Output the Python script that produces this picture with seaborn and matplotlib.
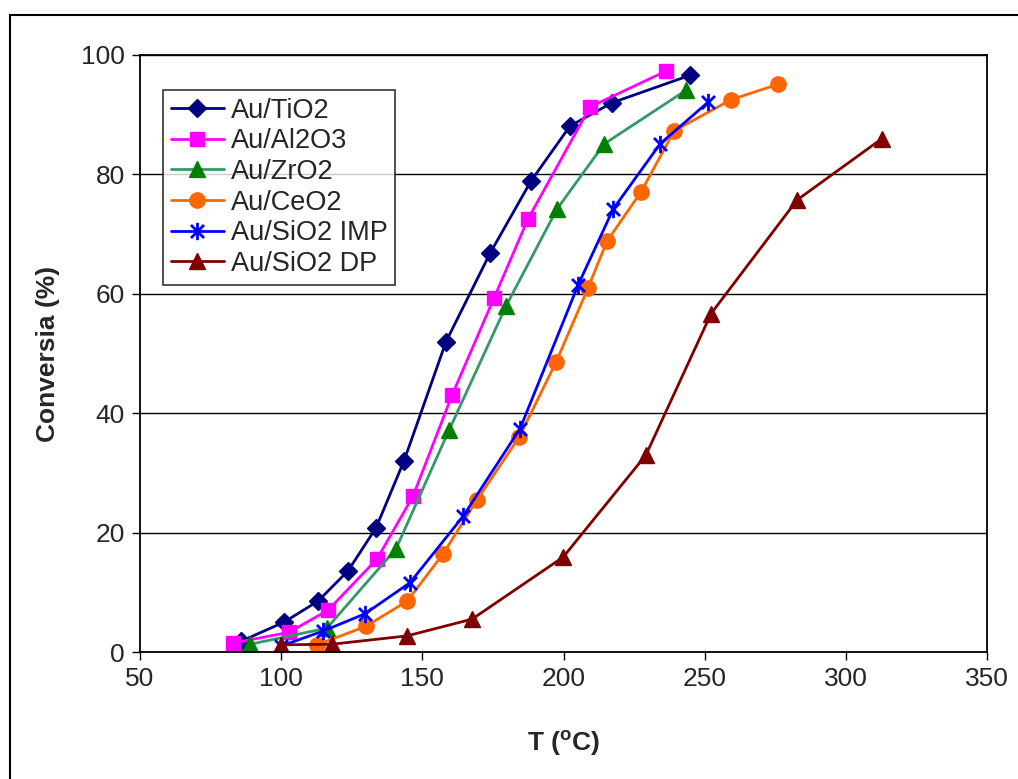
import matplotlib
matplotlib.use("Agg")
import matplotlib.pyplot as plt
from matplotlib.patches import Rectangle
from matplotlib.path import Path
import seaborn as sns

# data (T in degC, conversion in %)
tio2_t = [85.8, 101, 113, 123.7, 133.6, 143.5, 158.4, 174, 188.5, 202.3, 217.2, 244.8]
tio2_c = [1.8, 5.0, 8.5, 13.6, 20.8, 32.0, 52.0, 66.8, 78.9, 88.1, 92.0, 96.6]

al2o3_t = [83, 102.8, 116.6, 134, 146.7, 160.5, 175.4, 187.4, 209.4, 236.3]
al2o3_c = [1.5, 3.3, 7.0, 15.6, 26.1, 43.0, 59.3, 72.5, 91.3, 97.3]

zro2_t = [89, 116.2, 140.7, 159.5, 179.7, 197.7, 214.4, 243.4]
zro2_c = [1.3, 4.0, 17.3, 37.2, 58.0, 74.2, 85.1, 94.1]

ceo2_t = [112.7, 130, 144.6, 157.3, 169.4, 184.3, 197.4, 208.7, 215.4, 227.5, 239.2, 259.3, 276]
ceo2_c = [1.2, 4.3, 8.5, 16.4, 25.5, 36.0, 48.6, 61.0, 68.8, 77.1, 87.3, 92.5, 95.1]

imp_t = [100, 114.8, 129.7, 145.6, 164.4, 184.6, 205.2, 217.6, 234.2, 251.2]
imp_c = [1.0, 3.5, 6.4, 11.6, 22.7, 37.4, 61.5, 74.2, 85.1, 92.1]

dp_t = [100, 118, 144.6, 167.6, 199.9, 229.2, 252.3, 282.7, 312.8]
dp_c = [1.2, 1.3, 2.7, 5.5, 15.9, 33.0, 56.7, 75.7, 86.0]

labels = ["Au/TiO2", "Au/Al2O3", "Au/ZrO2", "Au/CeO2", "Au/SiO2 IMP", "Au/SiO2 DP"]

# asterisk marker like the spreadsheet "star"
star = Path([(0, -1), (0, 1), (-0.75, -0.75), (0.75, 0.75), (-0.75, 0.75), (0.75, -0.75)],
            [Path.MOVETO, Path.LINETO, Path.MOVETO, Path.LINETO, Path.MOVETO, Path.LINETO])

series = [
    (tio2_t, tio2_c, "#000080", "#000080", "D", 9.5),
    (al2o3_t, al2o3_c, "#FF00FF", "#FF00FF", "s", 10.5),
    (zro2_t, zro2_c, "#339966", "#008000", "^", 11.5),
    (ceo2_t, ceo2_c, "#FF6600", "#FF6600", "o", 11),
    (imp_t, imp_c, "#0000FF", "#0000FF", star, 12.5),
    (dp_t, dp_c, "#800000", "#800000", "^", 11.5),
]

sns.set_style("white")
plt.rcParams["font.family"] = ["Liberation Sans", "DejaVu Sans"]
plt.rcParams["mathtext.fontset"] = "custom"
plt.rcParams["mathtext.rm"] = "Liberation Sans:bold"
plt.rcParams["mathtext.it"] = "Liberation Sans:bold"
plt.rcParams["mathtext.bf"] = "Liberation Sans:bold"

fig = plt.figure(figsize=(10.18, 7.79), dpi=100)
ax = fig.add_axes([140 / 1018, 1 - 652 / 779, 847 / 1018, 597 / 779])

for (t, c, lc, mc, mk, ms), lab in zip(series, labels):
    sns.lineplot(
        x=t, y=c, ax=ax, color=lc, marker=mk, markersize=ms,
        markerfacecolor=mc, markeredgecolor=mc,
        markeredgewidth=2 if mk is star else 1,
        linewidth=2, label=lab, errorbar=None, sort=False,
    )

ax.set_xlim(50, 350)
ax.set_ylim(0, 100)
ax.set_xticks([50, 100, 150, 200, 250, 300, 350])
ax.set_yticks([0, 20, 40, 60, 80, 100])
ax.yaxis.grid(True, color="black", linewidth=1)
ax.set_axisbelow(True)
for s in ax.spines.values():
    s.set_color("black")
    s.set_linewidth(1.3)
ax.tick_params(axis="both", direction="out", length=6, width=1, color="black",
               labelsize=19, pad=5, bottom=True, left=True)

ax.set_xlabel("T ($^{o}$C)", fontsize=19, fontweight="bold", labelpad=27)
ax.set_ylabel("Conversia (%)", fontsize=19, fontweight="bold", labelpad=15)

leg = ax.legend(loc="upper left", bbox_to_anchor=(0.027, 0.942), borderaxespad=0,
                fontsize=19.5, frameon=True, fancybox=False, shadow=False,
                handlelength=1.95, labelspacing=0.17, borderpad=0.3,
                handletextpad=0.25)
leg.get_frame().set_edgecolor("black")
leg.get_frame().set_linewidth(1.2)

# outer chart-area border
fig.patches.append(Rectangle((10 / 1018, -0.1), 1.2, 1.1 - 15 / 779,
                             transform=fig.transFigure, fill=False,
                             edgecolor="black", linewidth=1.5))

fig.savefig("out.png", dpi=100)
